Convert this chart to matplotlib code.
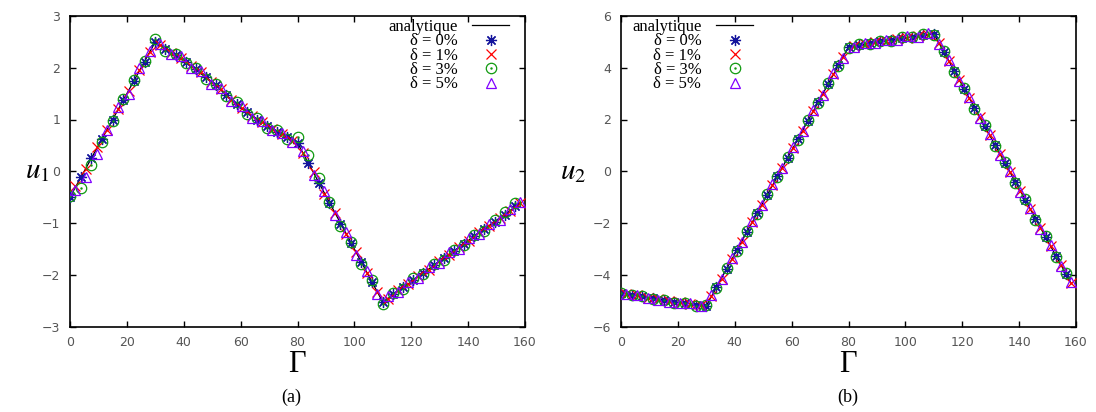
import matplotlib.pyplot as plt

plt.rcParams['mathtext.fontset'] = 'stix'
plt.rcParams['axes.unicode_minus'] = True

# boundary abscissa: element nodes and element midpoints
gamma_nodes = [0, 3.75, 7.5, 11.25, 15, 18.75, 22.5, 26.25, 30,
               33.57, 37.14, 40.71, 44.29, 47.86, 51.43, 55.0, 58.57, 62.14, 65.71, 69.29, 72.86, 76.43, 80,
               83.75, 87.5, 91.25, 95, 98.75, 102.5, 106.25, 110,
               113.57, 117.14, 120.71, 124.29, 127.86, 131.43, 135.0, 138.57, 142.14, 145.71, 149.29, 152.86, 156.43]
gamma_mid = [1.88, 5.63, 9.38, 13.13, 16.88, 20.63, 24.38, 28.13,
             31.79, 35.36, 38.93, 42.5, 46.07, 49.64, 53.21, 56.79, 60.36, 63.93, 67.5, 71.07, 74.64, 78.21,
             81.88, 85.63, 89.38, 93.13, 96.88, 100.63, 104.38, 108.13,
             111.79, 115.36, 118.93, 122.5, 126.07, 129.64, 133.21, 136.79, 140.36, 143.93, 147.5, 151.07, 154.64, 158.21]

# analytic solution
gamma_line1 = [0, 30, 40, 50, 60, 70, 80, 110, 158.21]
u1_line = [-0.50, 2.50, 2.14, 1.72, 1.22, 0.86, 0.55, -2.53, -0.62]
gamma_line2 = [0, 10, 20, 30, 80, 95, 110, 158.21]
u2_line = [-4.70, -4.89, -5.06, -5.20, 4.80, 5.08, 5.32, -4.32]

# u1 for the noise levels
u1_d0 = [-0.50, -0.12, 0.25, 0.62, 1.00, 1.38, 1.75, 2.12, 2.50,
         2.36, 2.24, 2.12, 1.97, 1.82, 1.66, 1.48, 1.30, 1.14, 1.00, 0.87, 0.76, 0.66, 0.55,
         0.16, -0.23, -0.62, -1.01, -1.39, -1.76, -2.14, -2.53,
         -2.38, -2.24, -2.10, -1.96, -1.82, -1.68, -1.54, -1.40, -1.26, -1.12, -0.98, -0.84, -0.68]
u1_d1 = [-0.29, 0.05, 0.46, 0.80, 1.20, 1.55, 1.95, 2.30,
         2.44, 2.29, 2.19, 2.04, 1.91, 1.73, 1.58, 1.38, 1.23, 1.06, 0.95, 0.81, 0.72, 0.59,
         0.35, -0.02, -0.43, -0.80, -1.21, -1.57, -1.96, -2.33,
         -2.46, -2.30, -2.18, -2.02, -1.90, -1.74, -1.62, -1.46, -1.34, -1.18, -1.06, -0.90, -0.77, -0.61]
u1_d3 = [-0.48, -0.33, 0.12, 0.57, 0.98, 1.40, 1.77, 2.14, 2.55,
         2.33, 2.27, 2.10, 2.00, 1.79, 1.68, 1.45, 1.33, 1.11, 1.03, 0.84, 0.79, 0.63, 0.66,
         0.31, -0.14, -0.60, -1.05, -1.36, -1.80, -2.11, -2.57,
         -2.35, -2.27, -2.07, -1.99, -1.79, -1.71, -1.52, -1.43, -1.23, -1.15, -0.95, -0.78, -0.62]
u1_d5 = [-0.36, -0.11, 0.34, 0.79, 1.24, 1.50, 1.99, 2.33,
         2.45, 2.26, 2.22, 2.00, 1.94, 1.69, 1.61, 1.35, 1.26, 1.03, 0.97, 0.79, 0.74, 0.56,
         0.40, -0.07, -0.39, -0.85, -1.17, -1.62, -1.92, -2.37,
         -2.42, -2.34, -2.14, -2.06, -1.85, -1.78, -1.57, -1.50, -1.29, -1.22, -1.01, -0.94, -0.72, -0.60]

# u2 for the noise levels
u2_d0 = [-4.70, -4.77, -4.84, -4.91, -4.98, -5.05, -5.11, -5.16, -5.20,
         -4.49, -3.77, -3.06, -2.34, -1.63, -0.91, -0.20, 0.51, 1.23, 1.94, 2.66, 3.37, 4.09, 4.80,
         4.88, 4.95, 5.02, 5.08, 5.14, 5.20, 5.26, 5.32,
         4.60, 3.89, 3.17, 2.46, 1.74, 1.03, 0.31, -0.40, -1.11, -1.83, -2.54, -3.26, -3.97]
u2_d1 = [-4.74, -4.79, -4.88, -4.93, -5.02, -5.07, -5.14, -5.17,
         -4.83, -4.15, -3.40, -2.72, -1.97, -1.29, -0.54, 0.14, 0.88, 1.57, 2.31, 3.00, 3.74, 4.42,
         4.85, 4.90, 4.99, 5.04, 5.12, 5.16, 5.24, 5.28,
         4.95, 4.26, 3.52, 2.83, 2.09, 1.41, 0.66, -0.02, -0.77, -1.45, -2.20, -2.88, -3.62, -4.30]
u2_d3 = [-4.72, -4.80, -4.82, -4.95, -4.96, -5.09, -5.08, -5.19, -5.17,
         -4.53, -3.72, -3.10, -2.29, -1.67, -0.86, -0.24, 0.56, 1.19, 1.99, 2.62, 3.42, 4.05, 4.76,
         4.91, 4.92, 5.05, 5.05, 5.17, 5.17, 5.29, 5.28,
         4.64, 3.85, 3.21, 2.42, 1.78, 0.99, 0.35, -0.44, -1.07, -1.87, -2.50, -3.30, -3.93]
u2_d5 = [-4.76, -4.77, -4.91, -4.97, -5.05, -5.11, -5.10, -5.22,
         -4.79, -4.18, -3.36, -2.75, -1.93, -1.32, -0.50, 0.11, 0.92, 1.54, 2.35, 2.96, 3.78, 4.39,
         4.80, 4.95, 4.94, 5.09, 5.07, 5.21, 5.19, 5.33,
         4.91, 4.29, 3.48, 2.86, 2.05, 1.44, 0.62, 0.01, -0.81, -1.42, -2.24, -2.85, -3.66, -4.27]

x_ticks = [0, 20, 40, 60, 80, 100, 120, 140, 160]
labels = ['analytique', 'δ = 0%', 'δ = 1%', 'δ = 3%', 'δ = 5%']

blue, red, green, purple = '#14149c', '#ff0000', '#109a10', '#8000ff'
serif = 'Liberation Serif'

W, H = 1096, 412
fig = plt.figure(figsize=(W / 100, H / 100), dpi=100)


def draw_panel(left_px, u_line_g, u_line, d0, d1, d3, d5, yticks, leg_loc, leg_anchor):
    ax = fig.add_axes([left_px / W, 1 - 326.5 / H, 455 / W, 310.5 / H])
    ln, = ax.plot(u_line_g, u_line, color='black', lw=0.9, zorder=2)
    p0, = ax.plot(gamma_nodes, d0, ls='none', marker=(8, 2, 0), ms=8, mec=blue, mew=0.9, zorder=3)
    p1, = ax.plot(gamma_mid, d1, ls='none', marker='x', ms=7, mec=red, mew=0.9, zorder=3)
    p3, = ax.plot(gamma_nodes, d3, ls='none', marker='o', ms=7.5, mfc='none', mec=green, mew=0.9, zorder=3)
    p3c, = ax.plot(gamma_nodes, d3, ls='none', marker='.', ms=1.5, color=green, zorder=3)
    p5, = ax.plot(gamma_mid, d5, ls='none', marker='^', ms=7.5, mfc='none', mec=purple, mew=0.9, zorder=3)

    ax.set_xlim(0, 160)
    ax.set_ylim(yticks[0], yticks[-1])
    ax.set_xticks(x_ticks)
    ax.set_yticks(yticks)
    ax.tick_params(direction='in', top=True, right=True, length=4, width=1,
                   labelsize=9, labelcolor='#555555', pad=7)
    for s in ax.spines.values():
        s.set_linewidth(1.2)

    # gnuplot-like key: text right-justified, sample on the right
    ax.legend([ln, p0, p1, (p3, p3c), p5], labels, loc=leg_loc, bbox_to_anchor=leg_anchor,
              frameon=False, markerfirst=False, numpoints=1, handlelength=2.2,
              handletextpad=0.9, labelspacing=-0.1, borderpad=0, borderaxespad=0,
              prop={'family': serif, 'size': 12})
    return ax


draw_panel(70, gamma_line1, u1_line, u1_d0, u1_d1, u1_d3, u1_d5,
           [-3, -2, -1, 0, 1, 2, 3], 'upper right', (0.965, 0.99))
draw_panel(621, gamma_line2, u2_line, u2_d0, u2_d1, u2_d3, u2_d5,
           [-6, -4, -2, 0, 2, 4, 6], 'upper left', (0.024, 0.99))

# axis names and panel tags
fig.text(37 / W, 1 - 170 / H, r'$u_1$', fontsize=21, ha='center', va='center')
fig.text(573 / W, 1 - 171 / H, r'$u_2$', fontsize=21, ha='center', va='center')
fig.text(297 / W, 1 - 365 / H, 'Γ', family=serif, fontsize=22, ha='center', va='center')
fig.text(848 / W, 1 - 365 / H, 'Γ', family=serif, fontsize=22, ha='center', va='center')
fig.text(291 / W, 1 - 397 / H, '(a)', family=serif, fontsize=13, ha='center', va='center')
fig.text(848 / W, 1 - 397 / H, '(b)', family=serif, fontsize=13, ha='center', va='center')

fig.savefig('out.png', dpi=100)
